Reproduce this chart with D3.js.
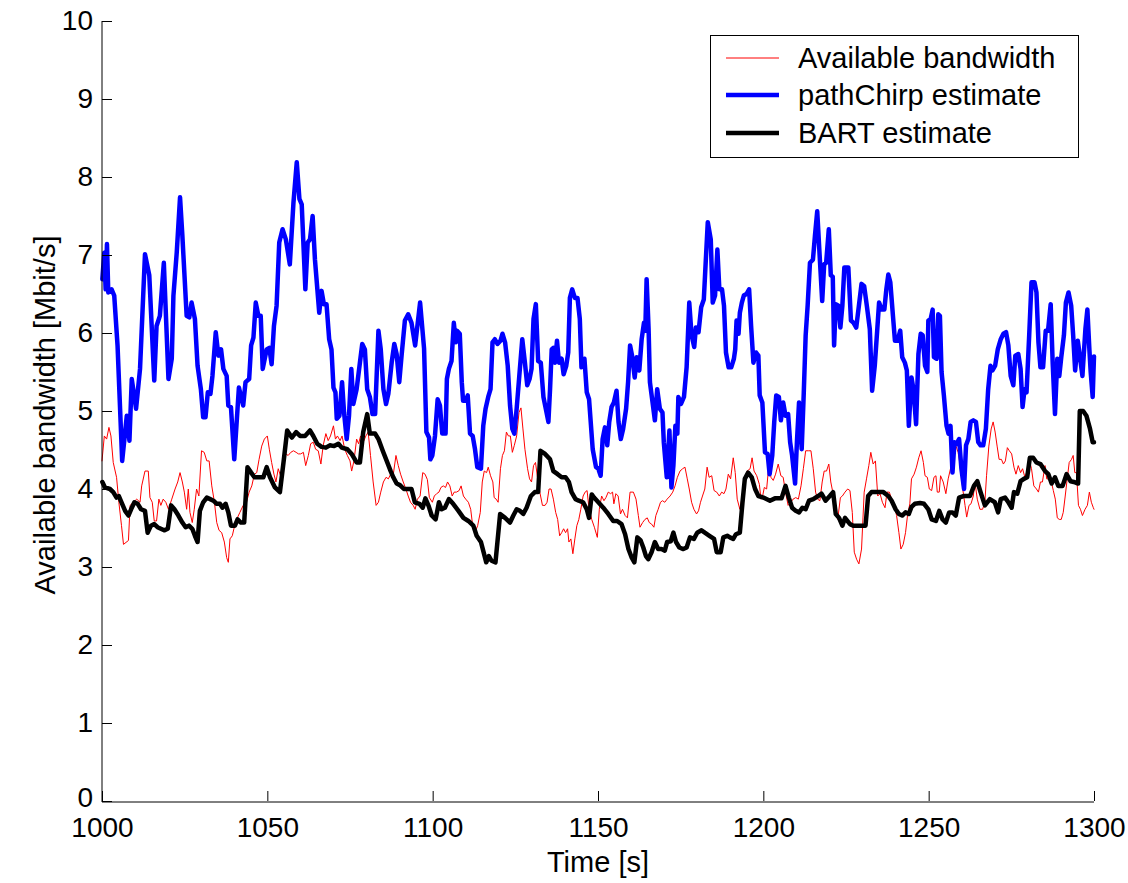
<!DOCTYPE html>
<html>
<head>
<meta charset="utf-8">
<script src="https://cdn.jsdelivr.net/npm/d3@7"></script>
<style>
  html, body { margin: 0; padding: 0; background: #fff; }
  svg { display: block; font-family: "Liberation Sans", Arial, Helvetica, sans-serif; }
</style>
</head>
<body>
<svg id="chart" width="1128" height="883"></svg>
<script>
// Available bandwidth over time: true value vs. two estimators
const xTicks = [1000, 1050, 1100, 1150, 1200, 1250, 1300];
const yTicks = [0, 1, 2, 3, 4, 5, 6, 7, 8, 9, 10];
const seriesNames = ["Available bandwidth", "pathChirp estimate", "BART estimate"];

// Available bandwidth (ground truth)
const availT = [1000.0,1000.7,1001.4,1002.1,1002.7,1003.4,1004.4,1005.1,1005.9,1006.5,1008.0,1008.5,1009.5,1010.5,1011.5,1012.0,1013.0,1014.0,1014.5,1015.2,1015.8,1016.5,1017.2,1017.8,1018.5,1019.3,1020.1,1021.1,1022.1,1022.9,1023.6,1024.3,1024.9,1025.6,1026.1,1026.6,1027.3,1027.9,1028.6,1029.3,1030.1,1030.9,1031.7,1032.4,1033.2,1034.0,1034.7,1035.4,1036.2,1037.0,1037.7,1038.2,1038.7,1039.4,1040.0,1040.7,1041.7,1042.7,1043.7,1044.5,1045.3,1046.1,1046.8,1047.5,1048.3,1049.1,1050.0,1050.6,1051.3,1052.0,1052.6,1053.3,1054.0,1054.8,1055.6,1056.3,1057.1,1057.9,1058.7,1059.4,1060.1,1060.9,1061.6,1062.4,1063.1,1063.9,1064.6,1065.4,1066.2,1066.9,1067.7,1068.4,1069.1,1070.0,1070.6,1071.2,1072.0,1072.6,1073.4,1074.2,1075.0,1075.5,1076.2,1077.0,1077.6,1078.2,1079.0,1079.8,1080.5,1081.2,1082.0,1082.9,1083.6,1084.3,1085.1,1085.9,1086.6,1087.3,1088.1,1088.9,1089.6,1090.3,1091.1,1091.9,1092.6,1093.3,1094.1,1094.7,1095.4,1096.2,1097.0,1097.7,1098.4,1099.0,1099.9,1100.5,1101.2,1101.9,1102.5,1103.2,1103.9,1104.5,1105.2,1105.9,1106.5,1107.2,1108.0,1108.6,1109.3,1110.0,1110.8,1111.5,1112.1,1112.8,1113.6,1114.4,1115.0,1115.6,1116.3,1116.8,1117.5,1118.2,1118.6,1119.2,1119.8,1120.5,1121.1,1121.7,1122.3,1122.9,1123.5,1124.1,1124.7,1125.4,1126.1,1126.7,1127.3,1127.9,1128.7,1129.3,1129.9,1130.5,1131.1,1131.7,1132.4,1133.2,1134.0,1134.6,1135.2,1135.8,1136.5,1137.2,1137.8,1138.4,1139.0,1139.6,1140.2,1140.8,1141.2,1141.8,1142.4,1143.0,1143.6,1144.2,1144.8,1145.5,1146.1,1146.7,1147.3,1148.1,1148.9,1149.8,1150.4,1151.1,1151.8,1152.4,1153.1,1153.8,1154.4,1154.8,1155.4,1156.1,1156.8,1157.4,1158.2,1158.9,1159.7,1160.7,1161.5,1162.2,1162.7,1163.5,1164.2,1164.9,1165.5,1166.2,1166.9,1167.5,1168.2,1168.9,1169.5,1170.2,1170.9,1171.8,1172.6,1173.3,1174.0,1174.8,1175.6,1176.3,1177.0,1177.6,1178.3,1179.0,1179.8,1180.4,1181.0,1181.6,1182.3,1183.0,1183.6,1184.4,1185.1,1185.9,1186.7,1187.4,1188.1,1188.7,1189.4,1190.1,1190.9,1191.5,1192.1,1192.9,1193.7,1194.4,1195.1,1196.0,1196.6,1197.2,1198.0,1198.8,1199.3,1199.7,1200.3,1201.0,1201.7,1202.3,1203.0,1203.7,1204.5,1205.3,1206.0,1206.7,1207.5,1208.3,1209.0,1209.8,1210.6,1211.4,1212.1,1212.8,1213.6,1214.4,1215.1,1215.8,1216.4,1217.1,1217.8,1218.4,1219.1,1219.8,1220.4,1221.0,1221.6,1222.5,1223.3,1223.9,1224.7,1225.5,1226.2,1226.9,1227.5,1228.2,1228.9,1229.7,1230.5,1231.2,1231.9,1232.5,1233.2,1233.9,1234.6,1235.3,1236.0,1236.8,1237.4,1238.1,1238.8,1239.6,1240.3,1241.0,1241.6,1242.3,1243.0,1243.6,1244.3,1244.8,1245.6,1246.3,1247.0,1247.7,1248.4,1248.9,1249.6,1250.2,1250.9,1251.6,1252.2,1252.6,1253.2,1253.6,1254.4,1255.2,1255.9,1256.6,1257.4,1258.2,1258.9,1259.7,1260.3,1261.0,1261.5,1262.2,1262.8,1263.5,1264.0,1264.7,1265.5,1266.3,1267.0,1267.5,1268.2,1268.9,1269.5,1270.1,1270.7,1271.3,1272.0,1272.6,1273.2,1273.8,1274.4,1275.1,1275.8,1276.4,1277.1,1277.8,1278.4,1279.1,1279.8,1280.4,1281.1,1281.8,1282.6,1283.2,1283.8,1284.4,1285.2,1285.7,1286.5,1287.1,1287.7,1288.3,1288.9,1289.5,1290.1,1290.7,1291.3,1291.9,1292.5,1293.2,1293.7,1294.2,1294.7,1295.3,1295.9,1296.5,1297.3,1298.0,1298.6,1299.2,1299.8,1300.0];
const availV = [4.36,4.68,4.64,4.79,4.68,4.34,4.15,3.83,3.53,3.29,3.34,3.79,3.83,3.87,3.83,4.04,4.23,4.23,3.89,3.83,3.59,3.59,3.87,3.79,3.87,3.83,3.74,3.87,4.00,4.09,4.21,4.09,3.96,3.74,4.00,3.70,3.57,3.74,4.00,3.91,4.49,4.47,4.36,4.36,4.04,3.83,3.57,3.47,3.44,3.32,3.12,3.06,3.36,3.40,3.51,3.61,3.70,3.79,3.83,3.96,4.04,4.19,4.21,4.38,4.55,4.64,4.68,4.51,4.34,4.19,4.09,4.26,4.17,4.34,4.45,4.43,4.47,4.49,4.47,4.45,4.45,4.47,4.30,4.43,4.58,4.60,4.51,4.49,4.32,4.56,4.71,4.62,4.68,4.81,4.64,4.68,4.62,4.68,4.51,4.43,4.36,4.23,4.36,4.64,4.58,4.68,4.60,4.68,4.73,4.43,4.09,3.79,3.83,3.96,4.09,4.15,4.13,4.19,4.19,4.43,4.30,4.19,4.09,4.00,3.91,3.83,3.79,3.74,3.87,3.91,4.21,4.19,4.12,3.89,3.83,3.91,3.94,3.96,4.02,4.04,4.02,4.09,4.04,3.91,3.96,3.96,3.98,4.04,3.91,3.87,3.83,3.74,3.53,3.44,3.53,3.70,4.09,4.23,4.21,4.28,4.17,4.09,3.89,3.87,3.83,4.26,4.43,4.49,4.73,4.68,4.68,4.47,4.56,4.68,4.98,5.04,4.77,4.51,4.26,4.13,4.09,4.30,4.34,4.15,3.96,3.79,3.79,3.83,4.00,4.00,3.87,3.70,3.61,3.40,3.44,3.49,3.44,3.49,3.32,3.36,3.17,3.36,3.53,3.61,3.74,3.91,3.96,3.98,3.74,3.61,3.51,3.38,3.74,3.91,3.85,3.89,3.96,3.94,3.96,3.81,3.94,3.91,3.68,3.74,3.66,3.63,3.96,3.96,3.87,3.66,3.51,3.57,3.61,3.63,3.57,3.55,3.51,3.66,3.74,3.83,3.85,3.83,3.87,3.91,3.96,4.04,4.15,4.23,4.26,4.28,4.13,4.00,3.83,3.74,3.68,3.72,3.83,3.91,4.00,4.28,4.15,4.17,3.98,3.96,3.91,3.96,3.94,4.00,4.19,4.13,4.40,4.21,3.87,3.74,3.91,4.13,4.23,4.26,4.40,4.23,4.17,4.06,3.87,3.89,4.02,4.00,4.32,4.15,4.11,4.19,4.32,4.17,4.15,3.96,3.79,3.83,3.87,3.89,3.87,4.04,4.26,4.49,4.49,4.49,4.26,3.96,3.87,3.85,4.09,4.23,4.23,4.32,4.09,3.96,3.74,3.61,3.89,3.91,3.96,4.00,3.98,3.70,3.19,3.10,3.04,3.23,3.96,4.13,4.30,4.47,4.32,4.36,3.91,3.94,3.83,3.76,3.96,3.96,3.87,3.79,3.66,3.44,3.23,3.29,3.44,3.66,3.81,4.13,4.19,4.28,4.40,4.49,4.34,4.17,4.15,4.00,3.98,4.15,4.17,3.96,3.96,4.17,4.09,3.94,4.13,4.26,4.43,4.56,4.47,4.26,4.00,3.79,3.64,3.79,3.81,3.91,4.09,3.87,3.74,3.74,3.83,4.17,4.55,4.77,4.86,4.73,4.55,4.38,4.38,4.32,4.36,4.53,4.49,4.45,4.28,4.19,4.30,4.21,4.26,4.15,4.23,4.38,4.26,4.04,4.00,3.96,4.09,4.09,4.30,4.13,4.13,4.09,3.98,3.87,3.63,3.61,3.61,3.70,3.91,4.13,4.34,4.38,4.43,4.21,4.21,3.79,3.74,3.66,3.74,3.79,3.96,3.83,3.76,3.74];

// pathChirp estimate
const chirpT = [1000.1,1000.7,1001.1,1001.5,1001.9,1002.9,1003.7,1004.7,1006.1,1007.5,1008.3,1009.0,1010.3,1011.5,1013.0,1014.3,1015.8,1016.5,1017.5,1018.7,1020.1,1021.1,1021.6,1022.6,1023.6,1024.3,1025.6,1026.4,1027.1,1028.1,1028.9,1029.9,1030.6,1031.3,1032.0,1032.8,1033.4,1034.4,1035.2,1036.0,1036.7,1037.7,1038.2,1039.0,1040.0,1041.4,1042.7,1043.4,1044.5,1045.1,1045.8,1046.5,1047.3,1048.0,1048.6,1049.8,1050.6,1051.3,1052.0,1052.8,1053.6,1054.6,1055.6,1056.8,1057.9,1058.9,1059.7,1060.4,1061.5,1062.2,1062.9,1063.7,1064.4,1065.7,1066.4,1067.1,1067.9,1068.7,1069.4,1070.0,1070.6,1071.0,1071.8,1072.6,1073.2,1074.0,1074.7,1075.4,1076.0,1077.0,1078.0,1078.7,1079.5,1080.2,1081.0,1081.8,1082.6,1083.6,1084.3,1085.1,1085.9,1086.6,1087.6,1088.4,1089.1,1089.9,1090.6,1091.6,1092.6,1093.6,1094.7,1096.2,1097.4,1098.1,1098.9,1099.3,1099.9,1100.7,1101.5,1102.2,1102.9,1103.9,1104.3,1104.9,1105.7,1106.4,1107.0,1107.3,1108.2,1108.8,1109.2,1110.0,1110.6,1111.3,1112.1,1112.8,1113.5,1114.6,1115.3,1116.0,1116.8,1117.5,1118.1,1118.8,1119.6,1120.5,1121.1,1121.9,1122.7,1123.4,1124.1,1124.7,1125.4,1126.2,1127.1,1127.9,1128.6,1129.3,1129.9,1130.5,1131.2,1131.9,1132.7,1133.5,1134.2,1135.0,1135.5,1136.0,1136.5,1137.0,1137.6,1138.2,1139.0,1139.6,1140.4,1141.0,1141.5,1142.2,1143.0,1143.8,1144.5,1145.0,1145.9,1146.6,1147.3,1148.4,1149.4,1150.1,1150.8,1151.4,1152.1,1152.8,1153.4,1154.1,1154.8,1155.6,1156.2,1156.9,1157.6,1158.5,1159.1,1159.7,1160.3,1161.1,1161.7,1162.5,1163.2,1163.9,1164.3,1164.7,1165.3,1165.7,1166.5,1167.2,1167.9,1168.7,1169.5,1169.9,1170.8,1171.6,1172.2,1172.8,1173.4,1174.0,1174.3,1175.1,1176.0,1176.8,1177.6,1178.3,1179.1,1179.6,1180.4,1181.2,1182.0,1182.6,1183.2,1184.1,1184.7,1185.4,1186.1,1186.7,1187.5,1188.1,1188.7,1189.5,1190.3,1191.1,1191.5,1191.9,1192.5,1192.9,1193.5,1194.1,1194.9,1195.7,1196.3,1197.0,1197.8,1198.5,1198.9,1199.7,1200.5,1201.3,1201.9,1202.7,1203.3,1203.9,1204.7,1205.3,1206.0,1206.7,1207.5,1208.1,1208.7,1209.6,1210.2,1210.8,1211.6,1212.2,1212.8,1213.4,1214.1,1215.0,1215.6,1216.3,1217.1,1217.8,1218.4,1219.0,1219.8,1220.4,1221.0,1221.4,1221.9,1222.7,1223.3,1223.9,1224.5,1225.7,1226.5,1227.3,1228.1,1228.9,1229.7,1230.5,1231.3,1232.2,1232.9,1233.7,1234.4,1235.0,1235.8,1236.6,1237.2,1237.8,1238.4,1239.2,1239.8,1240.6,1241.4,1242.0,1242.8,1243.4,1244.0,1244.8,1245.4,1246.2,1246.9,1247.6,1248.2,1248.9,1249.6,1249.9,1250.6,1251.2,1251.6,1252.4,1252.9,1253.4,1253.9,1254.6,1255.4,1256.0,1256.6,1257.2,1257.8,1258.4,1259.2,1259.9,1260.7,1261.3,1262.0,1262.7,1263.5,1264.3,1265.0,1265.7,1266.5,1267.3,1268.0,1268.7,1269.3,1270.1,1270.9,1271.8,1272.6,1273.4,1274.1,1274.8,1275.6,1276.2,1277.1,1277.8,1278.4,1279.0,1279.6,1280.4,1281.1,1282.0,1282.6,1283.2,1283.8,1284.6,1285.4,1286.1,1286.9,1287.5,1288.2,1288.9,1289.5,1290.1,1290.9,1291.5,1292.3,1293.1,1293.7,1294.3,1295.1,1295.7,1296.5,1297.4,1298.0,1298.6,1299.0,1299.6,1300.0];
const chirpV = [6.69,7.03,6.56,7.14,6.52,6.56,6.48,5.84,4.36,4.94,4.62,5.41,5.03,5.54,7.01,6.74,5.39,6.09,6.22,6.90,5.41,5.67,6.48,7.03,7.74,7.25,6.22,6.20,6.39,6.18,5.58,5.28,4.92,4.92,5.24,5.22,5.45,6.01,5.71,5.79,5.54,5.45,5.07,5.05,4.38,5.30,5.07,5.37,5.41,5.84,5.94,6.39,6.22,6.22,5.54,5.79,5.81,5.60,6.09,6.35,7.16,7.33,7.20,6.88,7.67,8.19,7.72,7.65,6.56,7.16,7.20,7.50,6.94,6.26,6.54,6.37,6.37,5.92,5.79,5.30,5.24,4.90,4.94,5.37,4.98,4.64,4.94,5.54,5.09,5.28,5.62,5.86,5.79,5.28,5.18,4.96,4.96,6.03,5.79,5.28,5.09,5.22,5.62,5.86,5.73,5.37,5.71,6.16,6.24,6.13,5.84,6.39,5.80,4.73,4.66,4.38,4.43,4.68,5.15,5.07,4.71,4.71,5.41,5.54,5.64,6.13,5.88,6.03,5.99,5.37,5.13,5.13,5.20,4.71,4.68,4.51,4.28,4.26,4.81,5.03,5.18,5.28,5.88,5.92,5.86,5.90,5.99,5.88,5.58,5.07,4.77,4.71,5.03,5.45,5.92,5.62,5.33,5.41,5.54,6.18,6.37,5.64,5.62,5.18,5.03,4.86,5.28,5.79,5.81,5.62,5.90,5.62,5.67,5.47,5.58,5.75,6.45,6.56,6.45,6.45,6.18,5.56,5.67,5.24,5.15,4.51,4.28,4.26,4.17,4.64,4.79,4.56,4.86,5.05,5.11,5.26,4.86,4.64,4.77,5.03,5.37,5.84,5.71,5.43,5.69,5.52,5.92,6.13,6.03,6.69,6.05,5.37,5.11,4.88,5.28,5.03,4.98,4.60,4.15,4.75,4.02,4.30,4.81,4.71,5.18,5.09,5.18,5.56,6.39,5.97,5.82,6.07,6.01,6.33,6.43,6.93,7.42,7.20,6.39,6.48,7.07,6.56,6.56,6.35,5.75,5.56,5.56,5.67,5.79,6.16,5.99,6.26,6.39,6.48,6.50,6.56,6.09,5.62,5.75,5.71,5.20,5.11,4.47,4.45,4.19,4.43,4.86,5.20,5.18,4.88,5.11,4.94,4.96,4.60,4.43,4.07,4.64,5.11,4.51,5.20,5.97,6.35,6.90,6.94,7.24,7.56,6.94,6.41,6.88,6.90,7.33,6.74,6.72,5.84,6.37,6.35,6.07,6.35,6.84,6.84,6.16,6.13,6.07,6.35,6.63,6.60,6.35,6.05,5.26,5.58,6.01,6.39,6.30,6.30,6.56,6.75,6.65,6.22,5.90,5.90,6.03,5.69,5.62,5.52,4.81,5.43,5.28,4.83,5.73,5.99,5.97,5.58,5.50,6.16,6.18,6.30,5.69,5.67,6.24,6.22,5.50,5.20,4.81,4.71,4.81,4.21,4.60,4.58,4.64,4.26,4.00,4.56,4.64,4.86,4.88,4.86,4.60,4.56,4.56,4.77,5.28,5.58,5.52,5.58,5.79,5.92,5.99,6.01,5.84,5.45,5.33,5.71,5.73,5.54,5.05,5.28,5.24,5.97,6.65,6.65,6.52,5.88,5.56,5.56,6.03,6.03,6.37,5.62,4.96,5.67,5.45,5.69,5.97,6.39,6.52,6.35,5.97,5.52,5.90,5.71,5.45,6.05,6.30,5.79,5.50,5.18,5.70];

// BART estimate
const bartT = [1000.1,1000.9,1002.4,1003.4,1004.4,1005.1,1005.9,1007.0,1008.0,1008.8,1009.8,1010.8,1011.8,1013.0,1013.8,1014.8,1015.8,1016.8,1017.8,1018.8,1019.9,1020.9,1021.9,1023.1,1024.3,1025.3,1026.3,1027.3,1028.1,1028.9,1029.6,1030.6,1031.7,1032.7,1033.7,1034.7,1035.7,1036.4,1037.4,1038.2,1039.0,1040.2,1041.0,1042.0,1043.0,1044.0,1045.1,1046.1,1047.8,1048.8,1049.8,1050.8,1052.3,1053.8,1055.0,1056.0,1057.4,1058.7,1059.9,1061.4,1062.9,1063.9,1065.1,1066.4,1067.7,1068.9,1070.2,1071.5,1072.5,1074.2,1075.5,1077.0,1078.0,1079.0,1080.2,1081.0,1082.6,1083.6,1084.9,1086.1,1087.3,1088.1,1089.1,1090.1,1091.3,1092.6,1093.6,1094.6,1096.0,1097.0,1097.8,1098.8,1099.7,1100.9,1101.9,1102.7,1103.7,1104.9,1106.2,1107.8,1109.3,1110.8,1112.3,1113.3,1114.6,1115.4,1116.2,1117.0,1117.8,1119.0,1120.4,1121.9,1123.4,1124.4,1125.4,1126.4,1127.4,1128.4,1129.7,1130.9,1131.9,1132.6,1134.0,1135.5,1136.5,1137.8,1139.0,1140.2,1141.2,1142.0,1143.2,1144.2,1145.5,1146.6,1147.3,1148.1,1148.8,1150.1,1151.6,1153.1,1154.6,1155.8,1157.1,1158.2,1159.2,1160.2,1161.0,1161.9,1162.9,1163.7,1164.5,1165.2,1166.2,1167.2,1168.2,1169.2,1170.2,1170.9,1172.0,1172.8,1173.6,1174.6,1175.8,1176.8,1177.8,1179.0,1180.0,1181.3,1182.3,1183.7,1185.1,1185.9,1187.1,1187.9,1189.1,1189.9,1190.9,1191.7,1192.9,1193.7,1194.4,1195.4,1196.5,1197.5,1198.5,1200.0,1202.0,1203.5,1205.5,1206.7,1207.7,1208.7,1209.8,1210.8,1211.8,1212.8,1213.8,1215.1,1216.6,1217.6,1218.8,1220.1,1221.1,1221.9,1222.9,1223.9,1224.7,1226.2,1227.2,1229.2,1230.9,1231.7,1232.7,1234.3,1236.3,1237.8,1238.8,1240.0,1241.0,1242.0,1243.0,1244.0,1244.8,1245.8,1247.4,1248.6,1249.9,1250.9,1252.2,1253.2,1254.2,1255.2,1256.2,1257.2,1258.2,1259.2,1260.5,1262.5,1263.7,1264.7,1265.7,1267.0,1268.5,1270.0,1271.0,1271.8,1273.1,1274.1,1275.1,1275.8,1276.8,1277.8,1278.8,1279.8,1280.6,1281.6,1282.6,1283.8,1285.2,1286.2,1287.2,1288.2,1289.2,1290.5,1291.7,1292.9,1293.9,1295.2,1295.7,1296.7,1297.7,1298.8,1299.6,1300.0];
const bartV = [4.09,4.02,4.00,3.96,3.89,3.91,3.83,3.72,3.66,3.74,3.83,3.81,3.74,3.72,3.44,3.53,3.55,3.51,3.49,3.47,3.49,3.79,3.74,3.66,3.57,3.51,3.53,3.49,3.40,3.32,3.72,3.83,3.89,3.87,3.85,3.81,3.81,3.76,3.81,3.70,3.53,3.53,3.61,3.57,3.57,4.28,4.21,4.15,4.15,4.15,4.28,4.15,4.02,3.96,4.38,4.75,4.66,4.73,4.68,4.68,4.75,4.68,4.58,4.54,4.53,4.56,4.55,4.58,4.53,4.51,4.45,4.34,4.34,4.73,4.96,4.71,4.71,4.64,4.49,4.36,4.23,4.15,4.07,4.05,4.00,4.00,4.00,3.83,3.81,3.76,3.88,3.78,3.66,3.61,3.83,3.74,3.76,3.87,3.81,3.72,3.63,3.59,3.53,3.40,3.32,3.19,3.06,3.14,3.08,3.06,3.68,3.63,3.57,3.66,3.74,3.72,3.68,3.76,3.91,3.96,3.96,4.49,4.45,4.38,4.23,4.19,4.15,4.15,4.09,3.96,3.87,3.85,3.83,3.74,3.63,3.93,3.89,3.83,3.76,3.68,3.59,3.59,3.55,3.42,3.23,3.12,3.06,3.38,3.34,3.25,3.14,3.10,3.19,3.32,3.23,3.23,3.21,3.32,3.33,3.44,3.32,3.25,3.23,3.25,3.38,3.36,3.44,3.47,3.44,3.40,3.36,3.19,3.19,3.38,3.40,3.38,3.36,3.42,3.44,3.83,4.13,4.21,4.15,4.00,3.91,3.89,3.85,3.88,3.88,4.04,3.89,3.76,3.72,3.70,3.76,3.74,3.85,3.87,3.91,3.94,3.85,3.91,3.96,3.68,3.63,3.53,3.63,3.55,3.53,3.53,3.53,3.91,3.96,3.96,3.96,3.91,3.85,3.74,3.68,3.66,3.70,3.68,3.77,3.81,3.82,3.81,3.74,3.61,3.59,3.72,3.61,3.57,3.70,3.70,3.66,3.89,3.91,3.91,4.04,4.10,3.96,3.79,3.87,3.83,3.70,3.87,3.89,3.83,3.76,3.96,3.94,4.10,4.13,4.15,4.40,4.40,4.34,4.32,4.23,4.19,4.07,4.15,4.04,4.04,4.19,4.10,4.09,4.07,5.00,5.00,4.94,4.77,4.60,4.60];

const W = 1128, H = 883;
const plot = { left: 102, right: 1094, top: 21, bottom: 801 };

const svg = d3.select("#chart");
svg.append("rect").attr("width", W).attr("height", H).attr("fill", "#fff");

const x = d3.scaleLinear().domain([1000, 1300]).range([plot.left, plot.right]);
const y = d3.scaleLinear().domain([0, 10]).range([plot.bottom, plot.top]);

// Data lines: truth first, then the two estimators on top
const line = d3.line().x(d => x(d[0])).y(d => y(d[1]));
const zip = (ts, vs) => ts.map((t, i) => [t, vs[i]]);

const series = [
  { name: seriesNames[0], data: zip(availT, availV), color: "#ff0000", width: 1 },
  { name: seriesNames[1], data: zip(chirpT, chirpV), color: "#0000ff", width: 4.5 },
  { name: seriesNames[2], data: zip(bartT, bartV), color: "#000000", width: 4.5 }
];

svg.append("g").selectAll("path").data(series).join("path")
  .attr("d", d => line(d.data))
  .attr("fill", "none")
  .attr("stroke", d => d.color)
  .attr("stroke-width", d => d.width)
  .attr("stroke-linejoin", "round")
  .attr("stroke-linecap", "round");

// Axes: ticks point inward, no box on top/right
const yAxis = d3.axisLeft(y).tickValues(yTicks).tickFormat(d3.format("d"))
  .tickSizeInner(-10).tickSizeOuter(0).tickPadding(9);
const gy = svg.append("g").attr("transform", `translate(${plot.left},0)`).call(yAxis);

const xAxis = d3.axisBottom(x).tickValues(xTicks).tickFormat(d3.format("d"))
  .tickSizeInner(-10).tickSizeOuter(0).tickPadding(16);
const gx = svg.append("g").attr("transform", `translate(0,${plot.bottom})`).call(xAxis);

[gx, gy].forEach(g => {
  g.select(".domain").remove();
  g.selectAll(".tick line").attr("stroke", "#000");
  g.selectAll(".tick text").attr("fill", "#000").attr("font-size", 28)
    .attr("font-family", "'Liberation Sans', Arial, sans-serif");
});
// keep the origin label a touch higher so it clears the first time label
gy.selectAll(".tick text").filter(d => d === 0).attr("dy", "0.2em");

// Axis lines
svg.append("line")
  .attr("x1", x(1000)).attr("x2", x(1000))
  .attr("y1", y(10)).attr("y2", y(0) + 1)
  .attr("stroke", "#000").attr("stroke-width", 1);
svg.append("line")
  .attr("x1", x(1000)).attr("x2", x(1300))
  .attr("y1", y(0) + 1).attr("y2", y(0) + 1)
  .attr("stroke", "#000").attr("stroke-width", 1);

// Axis titles
svg.append("text")
  .attr("x", (plot.left + plot.right) / 2).attr("y", 872)
  .attr("text-anchor", "middle").attr("font-size", 29).attr("fill", "#000")
  .text("Time [s]");
svg.append("text")
  .attr("transform", `translate(55,${(plot.top + plot.bottom) / 2 + 4}) rotate(-90)`)
  .attr("text-anchor", "middle").attr("font-size", 29).attr("fill", "#000")
  .text("Available bandwidth [Mbit/s]");

// Legend
const legend = svg.append("g");
legend.append("rect")
  .attr("x", 710.5).attr("y", 35.5).attr("width", 368).attr("height", 122)
  .attr("fill", "#fff").attr("stroke", "#000").attr("stroke-width", 1);
const rowY = [58, 95, 133];
series.forEach((s, i) => {
  legend.append("line")
    .attr("x1", 726).attr("x2", 779).attr("y1", rowY[i]).attr("y2", rowY[i])
    .attr("stroke", s.color).attr("stroke-width", s.width);
  legend.append("text")
    .attr("x", 798).attr("y", rowY[i] + 9.5)
    .attr("font-size", 29).attr("fill", "#000")
    .text(s.name);
});
</script>
</body>
</html>
